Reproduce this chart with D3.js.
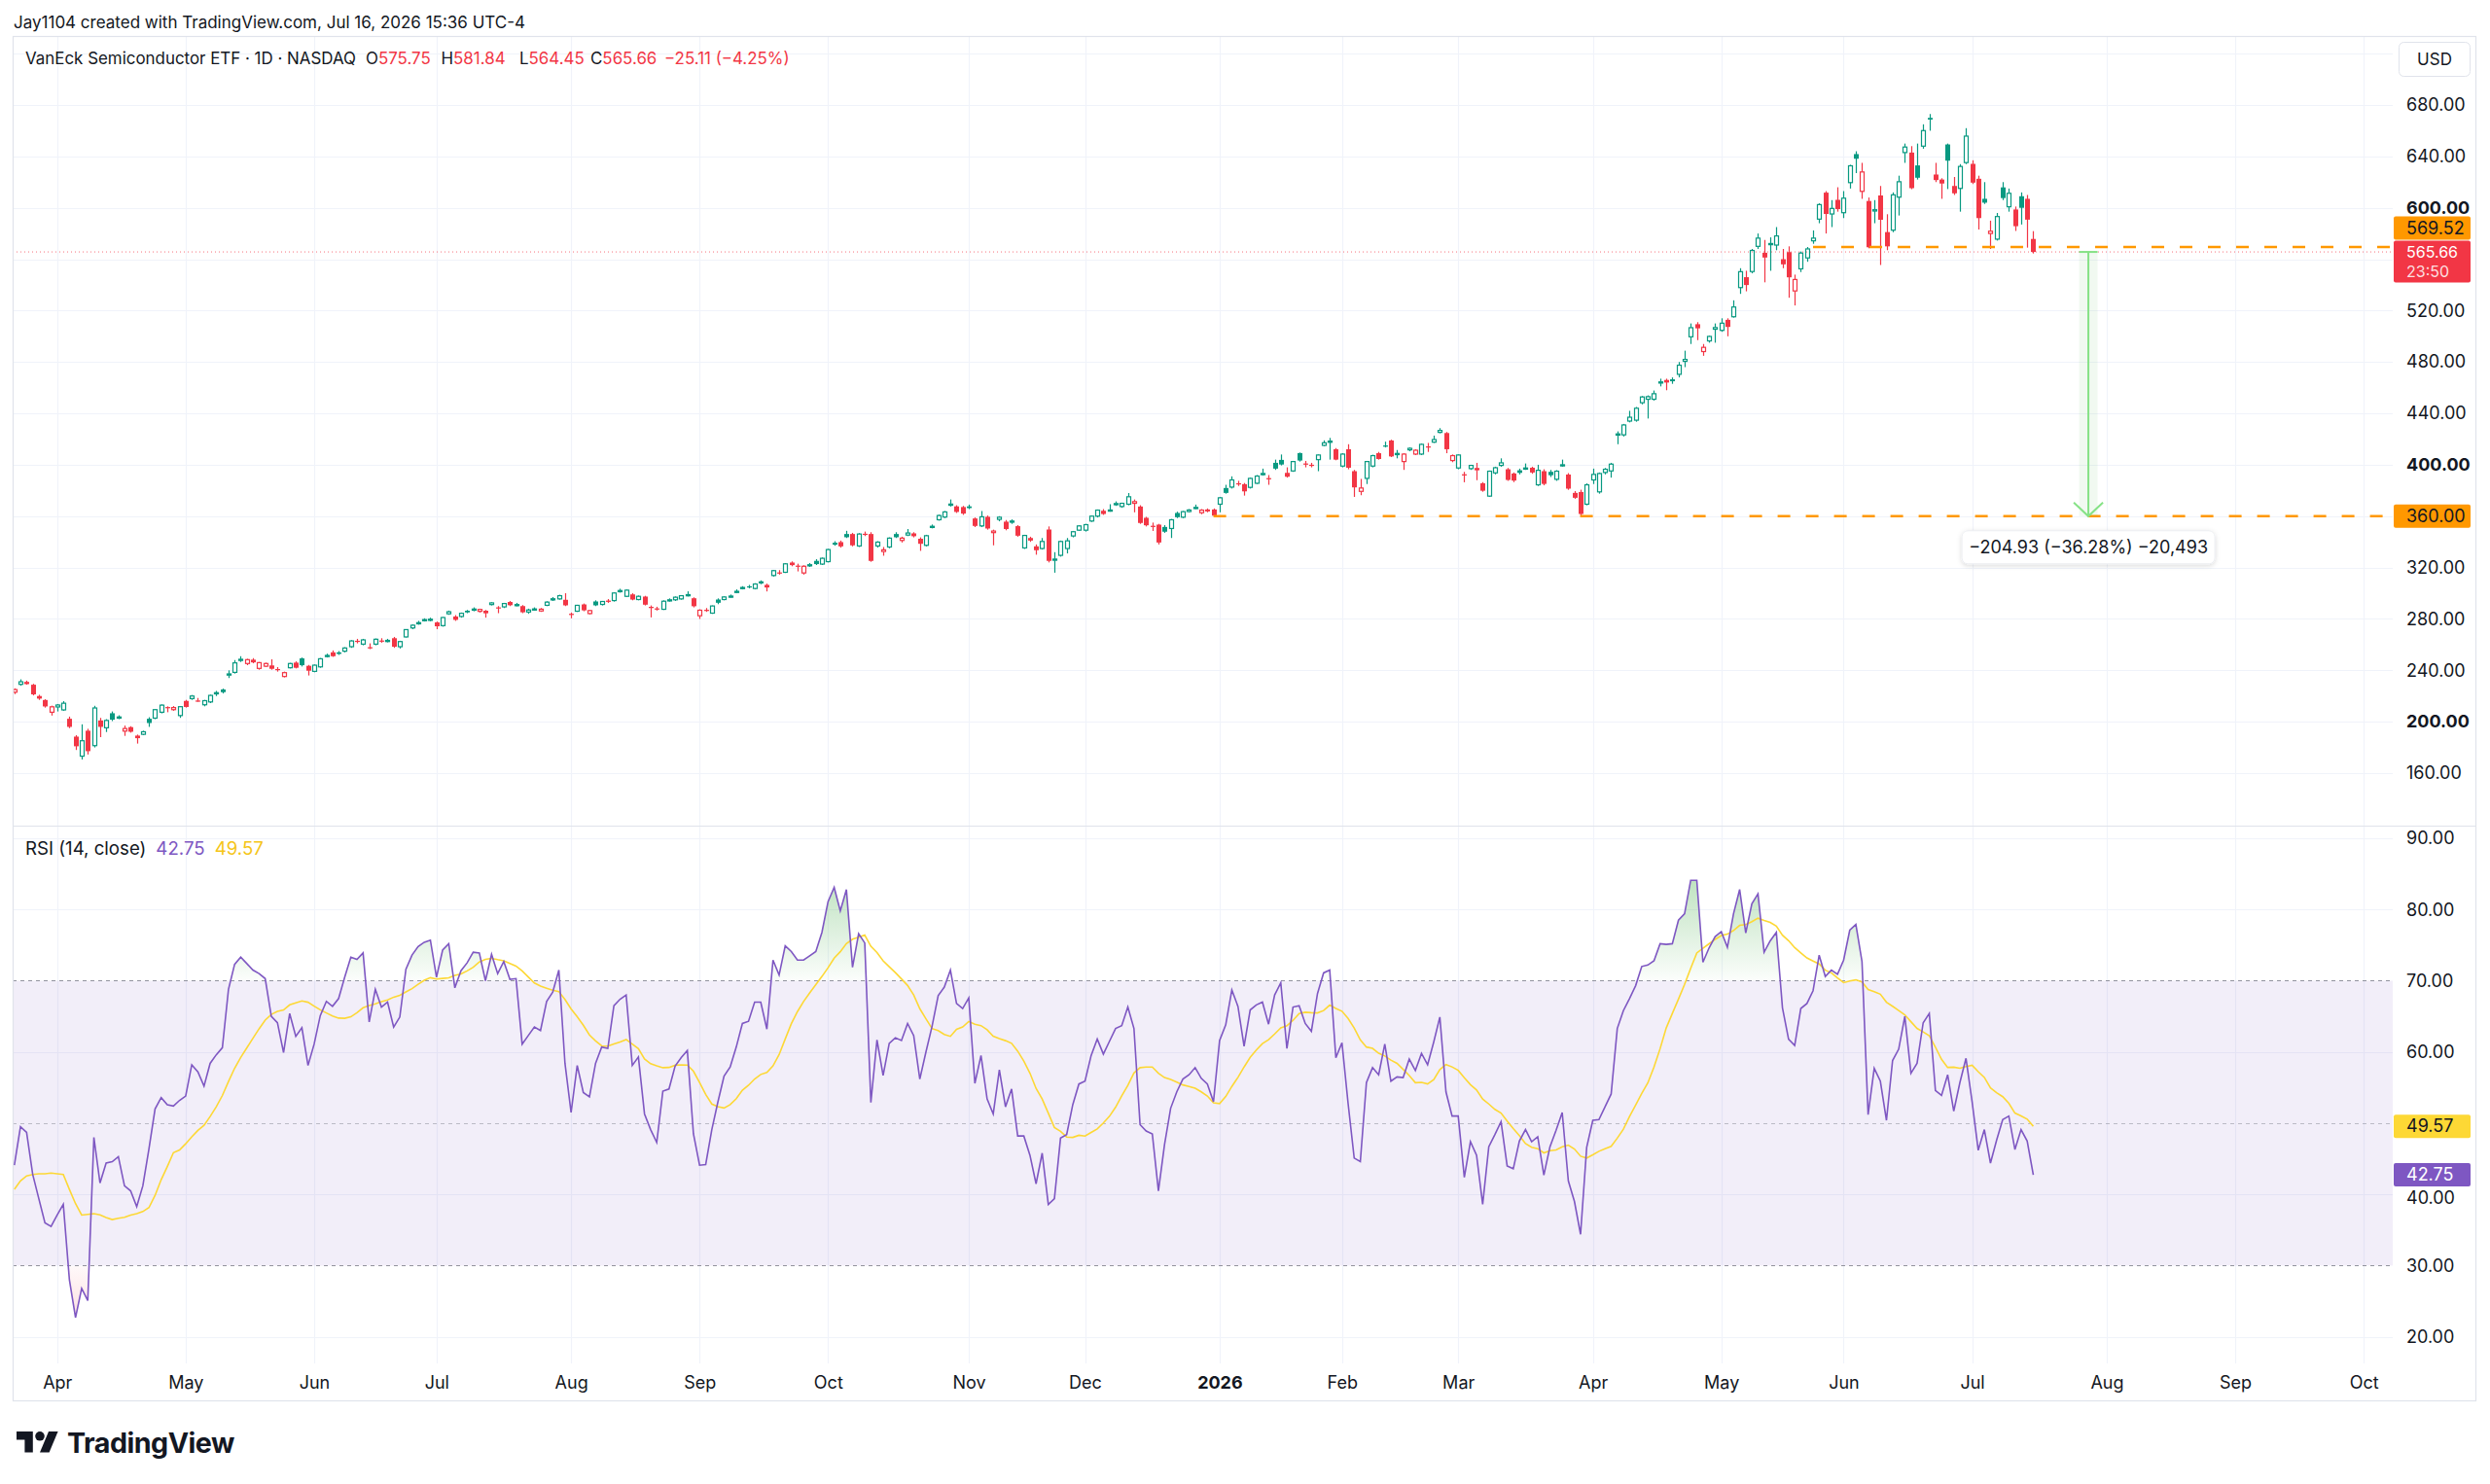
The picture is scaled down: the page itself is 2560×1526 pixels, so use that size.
<!DOCTYPE html>
<html>
<head>
<meta charset="utf-8">
<script src="https://cdn.jsdelivr.net/npm/d3@7"></script>
<style>
  body { margin: 0; background: #fff; }
  svg { display: block; font-family: Inter, "Noto Sans", sans-serif; }
</style>
</head>
<body>
<svg id="chart" width="2560" height="1526"></svg>
<script>
// daily candles, [open, high, low, close], one array per month
const mar2025 = [[223.0,226.0,221.5,225.0],[229.1,233.0,228.0,231.1],[231.0,232.0,228.8,229.3],[228.8,229.5,220.5,221.3],[220.0,221.0,217.0,218.0],[216.9,217.5,211.0,211.9],[207.4,212.5,204.8,211.6]];
const apr2025 = [[211.5,213.8,208.0,213.0],[209.2,216.0,208.5,214.4],[202.3,204.0,195.0,196.0],[188.4,189.5,178.0,180.9],[173.2,198.0,170.6,185.2],[193.0,194.5,174.5,177.1],[181.4,212.4,180.0,210.7],[201.0,203.0,188.0,196.0],[195.3,202.0,192.0,201.0],[206.6,208.0,200.5,201.6],[203.5,205.0,202.0,203.7],[192.7,197.0,189.0,194.7],[195.8,196.5,191.5,192.2],[189.2,190.0,183.0,187.2],[190.2,193.0,189.5,192.2],[202.3,203.5,196.0,199.0],[202.8,209.8,202.0,209.4],[207.4,213.5,206.5,212.9],[211.4,212.0,207.4,211.2],[209.4,212.2,208.5,211.0],[204.8,212.0,203.0,211.7]];
const may2025 = [[216.2,217.0,211.0,211.5],[218.0,220.8,217.0,220.0],[216.5,218.5,215.5,216.0],[213.2,217.0,212.0,216.4],[215.4,221.0,214.5,220.5],[222.3,224.0,220.0,222.6],[225.1,225.8,222.0,223.0],[236.9,240.0,234.0,237.2],[238.4,248.0,237.5,245.8],[248.4,251.0,246.5,248.6],[245.3,249.0,244.0,248.3],[248.3,249.5,245.5,246.2],[241.5,246.5,240.5,246.0],[243.2,246.0,242.5,245.3],[243.8,248.6,240.5,241.2],[241.0,242.5,239.0,240.9],[235.2,239.0,234.5,238.2],[242.0,245.8,241.5,245.3],[246.0,247.0,241.5,242.0],[249.3,250.0,243.0,244.0],[243.5,244.2,236.0,239.7]];
const jun2025 = [[239.2,244.5,238.5,244.0],[242.7,249.6,242.0,249.0],[251.3,253.0,250.0,251.6],[254.0,255.5,250.5,251.0],[254.0,255.0,252.0,252.8],[254.9,258.0,254.0,257.4],[258.4,263.5,257.5,262.9],[263.0,264.5,261.0,262.7],[260.4,264.5,259.5,263.7],[258.0,261.0,256.5,257.9],[260.4,264.8,259.5,264.2],[263.2,265.0,261.5,263.0],[263.0,264.5,261.8,263.3],[265.0,266.0,257.5,258.4],[258.4,263.0,257.0,262.4],[266.0,272.0,265.5,271.7],[273.0,275.8,272.0,275.1],[276.8,278.5,275.5,277.1],[279.3,280.5,278.0,279.5],[279.5,281.0,278.2,279.8]];
const jul2025 = [[277.3,278.0,272.0,274.3],[274.8,281.5,274.0,281.1],[284.0,286.5,283.2,285.6],[281.9,283.0,278.5,279.3],[281.9,285.0,281.0,284.4],[286.4,287.0,284.5,285.1],[287.5,289.0,286.0,287.7],[285.9,288.0,285.0,287.4],[286.4,287.0,281.0,284.4],[291.2,293.0,290.5,292.5],[289.0,290.0,284.5,288.9],[289.4,292.5,288.5,292.0],[293.2,294.0,290.0,290.7],[291.0,292.5,289.8,291.2],[290.0,290.8,284.5,285.2],[285.4,288.0,284.0,287.0],[287.6,289.0,286.5,287.8],[286.2,288.5,285.5,287.6],[290.6,293.8,290.0,293.1],[295.5,297.0,294.0,295.7],[295.6,298.8,295.0,298.1],[294.9,300.0,290.0,290.6]];
const aug2025 = [[284.0,285.0,280.5,283.5],[286.0,291.0,285.5,290.6],[291.3,292.0,286.0,286.7],[284.2,287.0,283.5,286.5],[293.6,294.5,290.0,290.6],[291.3,294.0,290.5,293.6],[294.3,295.5,292.5,293.3],[294.3,300.8,293.5,300.2],[301.9,303.5,300.5,302.1],[297.6,303.0,297.0,302.4],[299.1,300.0,294.5,295.1],[295.1,298.2,294.5,297.6],[297.4,298.0,290.5,291.1],[289.4,290.5,281.2,289.2],[288.2,289.5,286.5,288.0],[287.5,294.5,287.0,293.8],[294.7,296.0,293.5,294.9],[294.9,297.5,294.0,296.9],[295.6,298.5,295.0,298.1],[298.7,301.5,297.5,298.9],[296.1,296.8,289.0,289.9]];
const sep2025 = [[282.5,287.5,280.0,286.8],[287.1,288.5,285.5,286.6],[284.5,290.5,284.0,290.1],[295.1,296.0,291.5,292.6],[295.1,297.6,294.5,297.1],[297.6,299.0,296.5,297.8],[301.3,303.0,300.0,301.5],[304.3,305.5,303.0,304.5],[305.4,306.5,303.8,304.7],[303.7,307.8,303.0,307.2],[309.3,310.0,307.0,307.6],[306.5,307.5,301.4,304.5],[313.8,318.2,313.0,317.6],[316.2,318.0,314.5,316.1],[316.3,323.5,315.8,322.9],[323.9,324.8,321.0,321.9],[321.5,323.0,317.0,321.3],[315.8,321.8,314.5,321.0],[322.0,323.5,320.5,322.2],[325.2,326.5,322.0,322.7],[322.7,327.8,322.0,327.2]];
const oct2025 = [[324.6,334.5,324.0,334.0],[339.3,340.5,337.0,337.8],[339.8,341.0,335.5,336.5],[346.1,348.6,343.0,343.6],[346.1,347.0,336.5,337.3],[336.8,346.8,336.0,346.1],[346.3,348.0,344.5,346.0],[346.1,347.5,324.5,325.2],[336.8,340.5,335.5,339.8],[332.5,336.0,329.2,333.8],[336.0,343.5,335.0,342.9],[346.1,347.5,343.0,343.6],[341.1,344.0,339.5,342.9],[345.3,350.0,344.5,346.9],[346.6,347.5,343.5,344.4],[342.4,343.5,333.0,338.5],[337.3,345.5,336.5,344.8],[351.9,353.5,350.5,352.1],[357.2,361.2,356.5,360.5],[359.3,364.0,358.5,363.3],[369.2,373.0,367.5,369.4],[367.6,368.5,362.5,363.3],[367.1,368.0,361.0,362.0]];
const nov2025 = [[367.6,369.0,365.5,366.3],[358.2,359.0,351.5,352.4],[352.4,364.0,351.5,359.5],[359.5,360.5,349.5,350.4],[347.2,349.5,337.3,348.4],[357.5,360.0,356.0,359.2],[355.7,357.0,349.0,350.0],[355.9,357.5,354.0,356.2],[352.2,353.0,344.0,344.8],[335.3,345.5,334.5,345.0],[343.0,344.0,340.0,341.0],[336.5,338.0,330.0,333.5],[334.8,343.0,334.0,340.3],[349.6,352.0,324.0,325.2],[326.0,332.0,316.0,326.6],[329.5,341.0,328.5,340.3],[334.8,343.0,331.0,340.8],[344.6,348.5,343.5,347.9],[349.1,353.0,348.5,352.4]];
const dec2025 = [[349.1,354.0,348.0,353.4],[356.2,360.5,355.5,360.0],[360.0,365.2,359.0,364.7],[364.2,365.5,361.0,361.7],[364.5,369.3,363.5,364.8],[369.5,371.5,368.0,369.8],[367.5,370.5,366.5,370.0],[369.3,378.0,368.5,375.1],[370.0,373.0,363.0,371.3],[367.5,368.5,354.0,354.7],[358.7,359.5,352.0,352.9],[352.5,355.0,348.5,352.2],[353.4,354.0,338.0,339.5],[351.6,353.0,347.0,347.9],[350.4,357.8,343.0,357.2],[362.5,363.5,358.5,359.2],[359.2,364.0,358.5,363.5],[363.6,365.5,363.0,364.8],[366.5,369.0,365.5,366.8],[362.7,365.5,361.5,364.7],[365.2,366.0,363.0,363.7],[365.2,366.0,360.0,360.4]];
const jan2026 = [[369.3,375.0,363.0,374.3],[381.9,384.4,377.5,378.1],[382.6,391.0,381.5,388.2],[385.6,387.5,383.5,385.4],[384.9,385.8,376.0,379.3],[382.4,390.0,381.5,389.4],[385.6,392.0,385.0,391.2],[392.5,397.0,391.5,393.2],[389.6,392.0,384.4,389.4],[401.5,404.0,396.0,397.0],[403.8,408.0,399.5,400.2],[393.7,398.0,390.0,390.7],[395.2,403.0,394.5,402.5],[409.1,409.5,402.5,403.3],[401.0,403.0,398.0,400.8],[400.0,401.5,398.0,399.5],[404.0,408.0,395.0,407.6],[415.1,419.0,414.5,417.1],[418.1,420.9,404.0,418.4],[412.1,413.0,403.5,404.0]];
const feb2026 = [[399.0,409.0,398.0,408.3],[412.1,416.0,396.5,397.7],[395.0,396.0,375.0,382.4],[379.3,389.0,376.3,381.9],[389.4,403.0,385.0,402.5],[399.0,407.8,398.0,407.1],[409.0,410.0,404.0,404.5],[415.0,418.0,413.5,414.1],[418.9,419.5,406.0,406.5],[408.6,411.5,405.0,408.8],[402.5,409.0,396.0,408.3],[411.6,413.5,410.5,412.8],[408.3,412.0,407.5,411.3],[408.3,416.5,407.5,415.9],[414.3,417.0,410.0,414.1],[417.6,422.7,417.0,419.6],[425.2,428.5,424.5,426.7],[424.7,425.5,409.0,412.1],[403.3,408.0,402.0,407.1]];
const mar2026 = [[397.5,408.0,396.5,407.6],[392.6,394.5,386.4,392.4],[397.0,400.0,396.0,399.5],[397.5,401.5,388.0,395.7],[385.6,386.5,379.0,379.8],[375.6,395.5,375.0,395.0],[393.7,398.5,392.5,397.7],[399.5,405.0,398.5,401.5],[396.5,397.5,387.5,388.2],[393.2,394.0,386.5,387.7],[395.7,397.0,392.5,393.7],[397.3,401.0,396.0,397.5],[397.7,398.5,393.0,394.0],[384.4,400.0,383.5,395.7],[395.0,396.5,384.0,385.1],[394.5,396.0,390.5,391.9],[388.7,395.8,387.5,395.0],[399.8,404.0,398.5,400.0],[392.4,393.5,380.5,381.4],[378.1,379.5,373.5,374.3],[378.8,380.6,360.0,361.7],[369.3,385.5,368.5,384.4]];
const apr2026 = [[388.2,397.0,385.0,392.5],[378.9,394.0,377.5,393.2],[394.0,397.5,392.5,396.5],[395.2,401.5,390.0,400.5],[423.5,426.0,416.0,424.0],[423.3,431.8,422.0,431.0],[434.0,442.0,433.0,437.0],[434.7,445.0,433.5,444.0],[448.3,453.5,447.0,452.8],[451.0,454.0,436.0,453.0],[451.0,457.8,450.0,455.3],[464.0,467.0,461.0,464.5],[466.0,467.0,458.0,464.0],[466.5,468.0,463.0,465.0],[470.4,480.0,468.0,477.5],[480.5,488.8,476.0,482.0],[499.6,510.0,494.0,506.7],[509.4,511.0,497.0,506.2],[488.1,494.0,484.8,491.4],[496.4,500.5,495.0,499.9],[505.5,510.0,495.0,506.8]];
const may2026 = [[504.6,514.0,503.5,510.2],[512.8,514.0,500.0,507.3],[515.2,528.0,514.5,522.8],[537.9,553.0,533.0,550.3],[546.0,551.0,535.0,539.9],[550.4,568.0,549.0,566.8],[570.0,580.0,568.0,576.4],[565.0,575.0,542.0,561.3],[571.5,577.0,551.0,572.2],[571.0,585.0,567.0,578.1],[560.0,568.0,553.0,556.0],[565.5,570.0,530.0,545.9],[535.3,548.0,524.0,544.2],[552.5,566.0,550.0,564.8],[561.0,569.5,558.0,568.0],[574.3,582.4,572.0,576.4],[591.2,603.5,588.0,602.5],[611.8,613.0,580.0,595.2],[595.2,606.0,585.0,599.5],[606.2,616.0,597.0,599.0]];
const jun2026 = [[596.2,613.0,592.0,607.5],[619.6,633.5,615.0,632.7],[641.8,644.0,627.0,638.2],[612.8,635.0,607.0,627.9],[605.3,608.0,568.5,569.3],[597.5,606.0,588.0,598.5],[609.6,617.0,555.5,590.7],[581.1,595.0,567.0,570.0],[582.6,612.0,581.0,610.1],[608.3,625.0,594.0,620.3],[643.0,650.0,635.0,647.3],[643.0,648.0,614.5,615.3],[633.0,650.0,622.0,623.4],[648.0,665.0,646.0,660.1],[670.0,673.0,660.0,668.7],[625.9,635.0,620.0,621.6],[622.0,623.0,607.0,618.9],[649.3,650.0,614.6,636.7],[617.0,624.0,610.0,611.3],[615.1,634.0,597.0,632.2],[635.2,662.0,634.0,655.8]];
const jul2026 = [[634.2,637.0,618.5,619.6],[622.6,625.0,583.1,592.0],[607.0,620.0,603.0,604.0],[580.0,590.0,568.0,581.8],[575.6,596.0,574.5,593.2],[615.9,620.0,606.0,607.6],[600.8,615.0,597.0,611.3],[598.7,601.0,582.0,585.7],[609.0,612.0,587.0,600.0],[607.0,610.0,569.0,590.77],[575.75,581.84,564.45,565.66]];
const closeBeforeStart = 226.4;

// RSI(14) per bar
const rsi = [
  44.1,49.5,48.7,42.8,39.4,36.0,35.5,37.1,38.6,28.0, 22.7,26.8,25.1,48.0,41.6,44.4,44.6,45.3,41.2,40.5,
  38.3,41.2,46.4,52.0,53.6,52.6,52.4,53.2,53.8,58.2, 57.2,55.2,58.4,59.6,60.6,68.8,72.3,73.3,72.4,71.5,
  71.0,70.3,65.0,64.1,59.9,65.4,62.2,63.4,58.1,61.1, 65.1,67.1,66.4,67.5,70.5,73.3,73.0,73.9,64.2,68.8,
  66.3,67.0,63.5,64.9,71.6,73.6,74.8,75.4,75.7,70.5, 74.3,75.2,69.0,71.4,72.5,74.0,73.9,70.0,73.7,71.0,
  72.7,70.2,70.3,61.1,62.3,63.5,63.0,67.1,68.4,71.5, 58.4,51.5,58.1,54.3,53.7,58.4,60.7,60.5,66.5,67.4,
  68.0,58.1,59.3,51.3,49.1,47.3,54.5,54.8,58.0,59.2, 60.2,48.5,44.1,44.2,49.1,53.0,56.6,57.9,60.7,64.0,
  64.3,67.0,67.0,63.2,72.9,70.8,74.9,74.1,72.9,72.9, 73.5,74.1,76.8,81.1,83.1,79.8,82.8,71.9,76.6,75.3,
  52.9,61.7,56.7,61.2,62.0,61.6,64.0,62.3,56.2,60.0, 63.6,67.9,69.1,71.5,66.8,66.1,67.6,55.6,59.5,53.4,
  51.3,57.5,52.3,54.8,48.2,48.2,45.5,41.5,45.8,38.6, 39.4,47.9,48.4,52.6,55.5,55.9,59.5,61.8,59.7,61.5,
  63.3,63.7,66.3,63.3,49.8,48.9,48.5,40.5,47.0,52.1, 54.4,56.2,56.8,57.8,56.3,55.5,53.0,61.6,63.8,68.7,
  66.4,60.8,65.9,66.6,67.0,63.9,68.0,69.7,60.5,66.3, 66.5,64.0,62.9,68.2,71.1,71.5,59.2,61.3,52.8,45.1,
  44.6,55.7,57.8,56.8,61.1,55.9,56.5,56.4,59.0,57.4, 59.8,58.2,61.4,64.9,54.4,51.0,51.0,42.4,47.4,45.5,
  38.6,46.7,48.4,50.2,44.0,43.6,47.5,49.1,47.4,48.1, 42.7,46.7,49.0,51.5,41.9,39.0,34.4,46.6,50.4,50.5,
  52.3,54.1,63.3,65.8,67.5,69.3,72.0,72.2,72.8,75.2, 75.1,75.2,78.5,79.4,84.1,84.1,72.6,74.6,76.2,76.9,
  74.7,79.4,82.8,76.7,80.8,82.2,74.0,75.6,76.8,66.2, 61.8,60.9,66.1,66.8,68.6,73.6,70.6,71.5,70.9,72.9,
  77.1,77.9,72.7,51.2,57.7,55.9,50.4,58.8,60.4,65.0, 57.0,58.4,64.1,65.4,54.6,53.9,56.8,51.7,55.7,59.1,
  53.0,46.2,49.1,44.4,47.6,50.5,51.0,46.3,49.1,47.5, 42.75
];
// RSI-based MA for the first bars, where its 14-bar window starts before the visible data
const rsiMaLead = [40.7,41.9,42.6,42.8,42.9,42.9,43.0,42.9,42.8,40.7,38.7,37.1,37.2];

const priceTicks = [160,200,240,280,320,360,400,440,480,520,560,600,640,680];
const priceGrid = [160,200,240,280,320,360,400,440,480,520,560,600,640,680,720];
const boldTicks = [200,400,600];
const rsiTicks = [20,30,40,50,60,70,80,90];
const rsiGrid = [20,40,60,80,90];
const rsiBands = [30,50,70];

const holidays = ["2025-04-18","2025-05-26","2025-06-19","2025-07-04","2025-09-01","2025-11-27","2025-12-25",
  "2026-01-01","2026-01-19","2026-02-16","2026-04-03","2026-05-25","2026-06-19","2026-07-03","2026-09-07"];
const monthNames = ["Jan","Feb","Mar","Apr","May","Jun","Jul","Aug","Sep","Oct","Nov","Dec"];

const levels = [{price: 569.52, fromBar: 294}, {price: 360.00, fromBar: 196}];
const lastPrice = 565.66;
const countdown = "23:50";
const measure = {bar: 339, from: 565.66, to: 360.00, label: "\u2212204.93 (\u221236.28%) \u221220,493"};
const header = "Jay1104 created with TradingView.com, Jul 16, 2026 15:36 UTC-4";
const symbol = "VanEck Semiconductor ETF \u00b7 1D \u00b7 NASDAQ";
const ohlcLabels = [["O","575.75"],["H","581.84"],["L","564.45"],["C","565.66"]];
const change = "\u221225.11 (\u22124.25%)";

const candles = [].concat(mar2025, apr2025, may2025, jun2025, jul2025, aug2025, sep2025,
  oct2025, nov2025, dec2025, jan2026, feb2026, mar2026, apr2026, may2026, jun2026, jul2026);
const rsiMa = rsi.map((v, i) => i < 13 ? rsiMaLead[i] : d3.mean(rsi.slice(i - 13, i + 1)));

// trading-day calendar, bars continue into the empty future space
const holidaySet = new Set(holidays);
const bars = [];
for (let d = new Date(Date.UTC(2025, 2, 21)); d <= new Date(Date.UTC(2026, 9, 30)); d.setUTCDate(d.getUTCDate() + 1)) {
  const wd = d.getUTCDay();
  if (wd === 0 || wd === 6 || holidaySet.has(d.toISOString().slice(0, 10))) continue;
  bars.push(new Date(d));
}

const UP = "#089981", DOWN = "#f23645", TXT = "#131722", GRID = "#f0f3fa", BORDER = "#e0e3eb";
const paneLeft = 13, paneRight = 2460, axisRight = 2545;
const paneTop = 37, sep = 849, rsiBottom = 1402, frameBottom = 1440, labelX = 2474;

const x = d3.scaleLinear().domain([0, 1]).range([14.76, 21.05]);
const y = d3.scaleLinear().domain([160, 680]).range([795, 108]);
const yr = d3.scaleLinear().domain([20, 90]).range([1374.7, 862]);

const monthStarts = bars.map((d, i) => i).filter(i => i > 0 && bars[i].getUTCMonth() !== bars[i - 1].getUTCMonth() && x(i) < paneRight);
const monthLabel = i => bars[i].getUTCMonth() === 0 ? String(bars[i].getUTCFullYear()) : monthNames[bars[i].getUTCMonth()];

const svg = d3.select("#chart");
svg.append("rect").attr("width", 2560).attr("height", 1526).attr("fill", "#fff");

const defs = svg.append("defs");
defs.append("clipPath").attr("id", "priceClip").append("rect")
  .attr("x", paneLeft).attr("y", paneTop).attr("width", paneRight - paneLeft).attr("height", sep - paneTop);
defs.append("clipPath").attr("id", "rsiClip").append("rect")
  .attr("x", paneLeft).attr("y", sep).attr("width", paneRight - paneLeft).attr("height", rsiBottom - sep);
defs.append("clipPath").attr("id", "obClip").append("rect")
  .attr("x", paneLeft).attr("y", sep).attr("width", paneRight - paneLeft).attr("height", yr(70) - sep);
defs.append("clipPath").attr("id", "osClip").append("rect")
  .attr("x", paneLeft).attr("y", yr(30)).attr("width", paneRight - paneLeft).attr("height", rsiBottom - yr(30));
const ob = defs.append("linearGradient").attr("id", "obGrad").attr("gradientUnits", "userSpaceOnUse")
  .attr("x1", 0).attr("x2", 0).attr("y1", yr(86)).attr("y2", yr(70));
ob.append("stop").attr("offset", 0).attr("stop-color", "#4caf50").attr("stop-opacity", 0.4);
ob.append("stop").attr("offset", 1).attr("stop-color", "#4caf50").attr("stop-opacity", 0.02);
const os = defs.append("linearGradient").attr("id", "osGrad").attr("gradientUnits", "userSpaceOnUse")
  .attr("x1", 0).attr("x2", 0).attr("y1", yr(30)).attr("y2", yr(20));
os.append("stop").attr("offset", 0).attr("stop-color", "#f23645").attr("stop-opacity", 0.03);
os.append("stop").attr("offset", 1).attr("stop-color", "#f23645").attr("stop-opacity", 0.2);
const shadow = defs.append("filter").attr("id", "shadow").attr("x", "-20%").attr("y", "-40%").attr("width", "140%").attr("height", "190%");
shadow.append("feDropShadow").attr("dx", 0).attr("dy", 1.5).attr("stdDeviation", 2.5).attr("flood-color", "#000").attr("flood-opacity", 0.15);

// grid
const grid = svg.append("g").attr("stroke", GRID).attr("stroke-width", 1.2);
grid.selectAll(".vg").data(monthStarts).join("line")
  .attr("x1", d => Math.round(x(d)) + 0.5).attr("x2", d => Math.round(x(d)) + 0.5)
  .attr("y1", paneTop).attr("y2", rsiBottom);
grid.selectAll(".hg").data(priceGrid.filter(p => y(p) > paneTop)).join("line")
  .attr("x1", paneLeft).attr("x2", paneRight).attr("y1", d => Math.round(y(d)) + 0.5).attr("y2", d => Math.round(y(d)) + 0.5);
grid.selectAll(".rg").data(rsiGrid).join("line")
  .attr("x1", paneLeft).attr("x2", paneRight).attr("y1", d => Math.round(yr(d)) + 0.5).attr("y2", d => Math.round(yr(d)) + 0.5);

// RSI pane background band and guide lines
svg.append("rect").attr("x", paneLeft).attr("y", yr(70)).attr("width", paneRight - paneLeft).attr("height", yr(30) - yr(70))
  .attr("fill", "#7e57c2").attr("fill-opacity", 0.1);
svg.append("g").selectAll("line").data(rsiBands).join("line")
  .attr("x1", paneLeft).attr("x2", paneRight)
  .attr("y1", d => Math.round(yr(d)) + 0.5).attr("y2", d => Math.round(yr(d)) + 0.5)
  .attr("stroke", "#787b86").attr("stroke-opacity", d => d === 50 ? 0.45 : 0.8)
  .attr("stroke-dasharray", "4,4").attr("stroke-width", 1.2);

// candles
const pricePane = svg.append("g").attr("clip-path", "url(#priceClip)");
const prevClose = i => i === 0 ? closeBeforeStart : candles[i - 1][3];
const colorOf = (d, i) => d[3] >= prevClose(i) ? UP : DOWN;
const candle = pricePane.append("g").selectAll("g").data(candles).join("g");
candle.append("line")
  .attr("x1", (d, i) => Math.round(x(i)) + 0.5).attr("x2", (d, i) => Math.round(x(i)) + 0.5)
  .attr("y1", d => y(d[1])).attr("y2", d => y(d[2]))
  .attr("stroke", colorOf).attr("stroke-width", 1.2);
candle.append("rect")
  .attr("x", (d, i) => Math.round(x(i)) - (d[3] > d[0] ? 1.5 : 2))
  .attr("width", d => d[3] > d[0] ? 4 : 5)
  .attr("y", d => y(Math.max(d[0], d[3])))
  .attr("height", d => Math.max(1.2, Math.abs(y(d[0]) - y(d[3]))))
  .attr("fill", (d, i) => d[3] > d[0] ? "#fff" : colorOf(d, i))
  .attr("stroke", (d, i) => d[3] > d[0] ? colorOf(d, i) : "none")
  .attr("stroke-width", 1.2);

// horizontal levels and last price line
pricePane.append("line").attr("x1", paneLeft).attr("x2", paneRight)
  .attr("y1", y(lastPrice)).attr("y2", y(lastPrice))
  .attr("stroke", DOWN).attr("stroke-opacity", 0.7).attr("stroke-width", 1).attr("stroke-dasharray", "1,3");
pricePane.selectAll(".level").data(levels).join("line")
  .attr("x1", d => x(d.fromBar)).attr("x2", paneRight)
  .attr("y1", d => y(d.price)).attr("y2", d => y(d.price))
  .attr("stroke", "#ff9800").attr("stroke-width", 2.6).attr("stroke-dasharray", "13,16");

// price range measurement
const mx = x(measure.bar);
pricePane.append("rect").attr("x", mx - 9.5).attr("width", 19)
  .attr("y", y(measure.from)).attr("height", y(measure.to) - y(measure.from))
  .attr("fill", "#4caf50").attr("fill-opacity", 0.08);
const arrow = pricePane.append("g").attr("stroke", "#86e286").attr("stroke-width", 2).attr("fill", "none");
arrow.append("line").attr("x1", mx).attr("x2", mx).attr("y1", y(measure.from)).attr("y2", y(measure.to));
arrow.append("line").attr("x1", mx - 9.5).attr("x2", mx + 9.5).attr("y1", y(measure.from)).attr("y2", y(measure.from));
arrow.append("path").attr("d", `M${mx - 15},${y(measure.to) - 14}L${mx},${y(measure.to)}L${mx + 15},${y(measure.to) - 14}`);
const mLabel = pricePane.append("g").attr("transform", `translate(${mx},${y(measure.to) + 32})`);
mLabel.append("rect").attr("x", -130).attr("y", -17).attr("width", 260).attr("height", 34).attr("rx", 6)
  .attr("fill", "#fff").attr("stroke", "#eceef2").attr("filter", "url(#shadow)");
mLabel.append("text").attr("text-anchor", "middle").attr("dy", "0.36em")
  .attr("font-size", 18).attr("fill", TXT).text(measure.label);

// RSI pane
const rsiPane = svg.append("g").attr("clip-path", "url(#rsiClip)");
rsiPane.append("path").datum(rsi).attr("clip-path", "url(#obClip)")
  .attr("d", d3.area().x((d, i) => x(i)).y0(yr(70)).y1(d => yr(d)))
  .attr("fill", "url(#obGrad)");
rsiPane.append("path").datum(rsi).attr("clip-path", "url(#osClip)")
  .attr("d", d3.area().x((d, i) => x(i)).y0(yr(30)).y1(d => yr(d)))
  .attr("fill", "url(#osGrad)");
rsiPane.append("path").datum(rsiMa)
  .attr("d", d3.line().x((d, i) => x(i)).y(d => yr(d)))
  .attr("fill", "none").attr("stroke", "#fdd835").attr("stroke-width", 1.6);
rsiPane.append("path").datum(rsi)
  .attr("d", d3.line().x((d, i) => x(i)).y(d => yr(d)))
  .attr("fill", "none").attr("stroke", "#7e57c2").attr("stroke-width", 1.6);

// frame
const frame = svg.append("g").attr("stroke", BORDER).attr("stroke-width", 1.2).attr("fill", "none");
frame.append("rect").attr("x", paneLeft + 0.5).attr("y", paneTop + 0.5).attr("width", axisRight - paneLeft).attr("height", frameBottom - paneTop);
frame.append("line").attr("x1", paneLeft).attr("x2", axisRight).attr("y1", sep + 0.5).attr("y2", sep + 0.5);

// axis tags: boxes first, so tick labels hidden under them can be dropped
const redTop = y(lastPrice) - 11.5;
const tags = [
  {yc: redTop + 21.5, h: 43, lines: [lastPrice.toFixed(2), countdown], bg: DOWN, fg: "#fff", size: 16},
  {yc: redTop - 13, h: 24, lines: [levels[0].price.toFixed(2)], bg: "#ff9800", fg: TXT, size: 18},
  {yc: y(levels[1].price), h: 24, lines: [levels[1].price.toFixed(2)], bg: "#ff9800", fg: TXT, size: 18},
  {yc: yr(rsiMa[rsiMa.length - 1]), h: 24, lines: [rsiMa[rsiMa.length - 1].toFixed(2)], bg: "#fdd835", fg: TXT, size: 18},
  {yc: yr(rsi[rsi.length - 1]), h: 24, lines: [rsi[rsi.length - 1].toFixed(2)], bg: "#7e57c2", fg: "#fff", size: 18}
];
const underTag = py => tags.some(t => Math.abs(py - t.yc) < t.h / 2 + 2);

// axes
const priceAxis = svg.append("g").attr("transform", `translate(${labelX},0)`)
  .call(d3.axisRight(y).tickValues(priceTicks.filter(p => !underTag(y(p)))).tickFormat(d3.format(".2f")).tickSize(0).tickPadding(0));
const rsiAxis = svg.append("g").attr("transform", `translate(${labelX},0)`)
  .call(d3.axisRight(yr).tickValues(rsiTicks.filter(r => !underTag(yr(r)))).tickFormat(d3.format(".2f")).tickSize(0).tickPadding(0));
const timeAxis = svg.append("g").attr("transform", "translate(0,1422)")
  .call(d3.axisBottom(x).tickValues(monthStarts).tickFormat(monthLabel).tickSize(0).tickPadding(0));
[priceAxis, rsiAxis, timeAxis].forEach(g => {
  g.select(".domain").remove();
  g.selectAll("text").attr("font-family", "Inter, 'Noto Sans', sans-serif").attr("font-size", 18).attr("fill", TXT);
});
priceAxis.selectAll("text").attr("font-weight", d => boldTicks.includes(d) ? 700 : 400);
rsiAxis.selectAll("text").attr("dy", d => d === 40 ? "0.5em" : "0.32em");
timeAxis.selectAll("text").attr("y", 0).attr("dy", "0.36em")
  .attr("font-weight", d => bars[d].getUTCMonth() === 0 ? 700 : 400);

tags.forEach(t => {
  const g = svg.append("g");
  g.append("rect").attr("x", 2461).attr("y", t.yc - t.h / 2).attr("width", 79).attr("height", t.h).attr("rx", 2).attr("fill", t.bg);
  t.lines.forEach((s, k) => g.append("text").attr("x", labelX).attr("y", t.yc - t.h / 2 + 11.5 + k * 20).attr("dy", "0.36em")
    .attr("font-size", t.size).attr("fill", t.fg).attr("fill-opacity", k ? 0.85 : 1).text(s));
});

// USD box
svg.append("rect").attr("x", 2466.5).attr("y", 43.5).attr("width", 73).attr("height", 35).attr("rx", 5)
  .attr("fill", "#fff").attr("stroke", BORDER);
svg.append("text").attr("x", 2503).attr("y", 61).attr("dy", "0.36em").attr("text-anchor", "middle")
  .attr("font-size", 17).attr("fill", TXT).text("USD");

// header texts, scaled to the widths measured on the reference
function fit(sel, width) {
  const len = sel.node().getComputedTextLength();
  sel.attr("font-size", (parseFloat(sel.attr("font-size")) * width / len).toFixed(2));
}
fit(svg.append("text").attr("x", 14).attr("y", 23).attr("dy", "0.36em").attr("font-size", 17).attr("fill", TXT).text(header), 526);

// symbol line: each group starts where it starts on the reference
const sym = svg.append("text").attr("x", 26).attr("y", 60).attr("dy", "0.36em")
  .attr("font-size", 17.5).attr("fill", TXT).text(symbol);
fit(sym, 340);
const fs2 = sym.attr("font-size");
const starts = [376, 453.5, 534, 607];
ohlcLabels.forEach(([k, v], j) => {
  const t = svg.append("text").attr("x", starts[j]).attr("y", 60).attr("dy", "0.36em").attr("font-size", fs2).attr("fill", TXT);
  t.append("tspan").text(k);
  t.append("tspan").attr("fill", DOWN).text(v);
});
svg.append("text").attr("x", 683).attr("y", 60).attr("dy", "0.36em").attr("font-size", fs2).attr("fill", DOWN).text(change);

const legend = svg.append("text").attr("x", 26).attr("y", 872).attr("dy", "0.36em").attr("font-size", 17).attr("fill", TXT);
legend.append("tspan").text("RSI (14, close)");
legend.append("tspan").attr("dx", 10).attr("fill", "#7e57c2").text(rsi[rsi.length - 1].toFixed(2));
legend.append("tspan").attr("dx", 10).attr("fill", "#f5c518").text(rsiMa[rsiMa.length - 1].toFixed(2));
fit(legend, 225);

// TradingView logo
const logo = svg.append("g").attr("transform", "translate(17,1467.2) scale(1.2)").attr("fill", TXT);
logo.append("path").attr("d", "M14 22H7V11H0V4h14v18z");
logo.append("circle").attr("cx", 20).attr("cy", 8).attr("r", 4);
logo.append("path").attr("d", "M28 22h-8l7.5-18h8L28 22z");
fit(svg.append("text").attr("x", 69).attr("y", 1494).attr("font-size", 29).attr("font-weight", 700)
  .attr("fill", TXT).attr("letter-spacing", -0.5).text("TradingView"), 172);
</script>
</body>
</html>
